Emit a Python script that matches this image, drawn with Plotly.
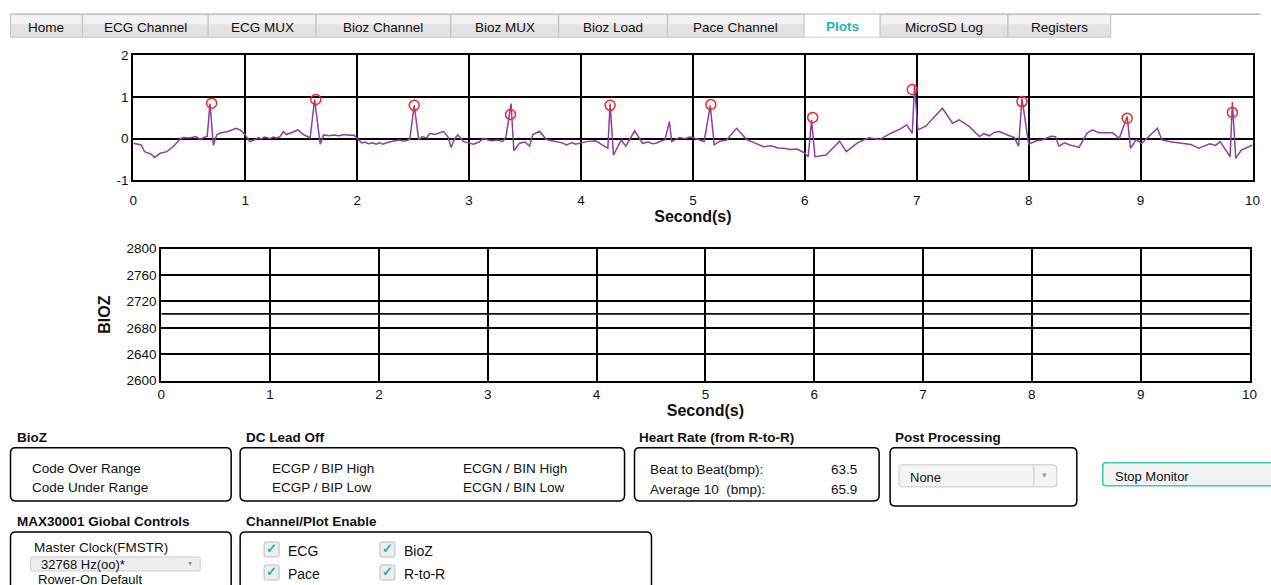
import plotly.graph_objects as go

# ---------------- data ----------------
ecg_time = [0.00, 0.07, 0.10, 0.13, 0.16, 0.19, 0.24, 0.30, 0.36, 0.42, 0.45, 0.50, 0.53, 0.56, 0.60, 0.63, 0.66,
            0.685, 0.715, 0.745, 0.77, 0.85, 0.92, 0.96, 1.00, 1.04, 1.09, 1.12, 1.14, 1.17, 1.19, 1.22, 1.25, 1.28, 1.31, 1.34, 1.37,
            1.40, 1.47, 1.52, 1.58, 1.62, 1.67, 1.70, 1.75, 1.79, 1.84, 1.88, 1.93, 1.97, 2.04, 2.07, 2.10, 2.14, 2.17, 2.20, 2.23, 2.27, 2.30,
            2.34, 2.38, 2.42, 2.47, 2.51, 2.55, 2.58, 2.62, 2.65, 2.69, 2.72, 2.77, 2.81, 2.84, 2.87, 2.90, 2.95, 3.04, 3.09, 3.13,
            3.17, 3.20, 3.26, 3.30, 3.33, 3.375, 3.40, 3.45, 3.50, 3.54, 3.57, 3.63, 3.69, 3.74, 3.78, 3.83, 3.87, 3.92, 3.95, 3.99, 4.05, 4.13, 4.24,
            4.26, 4.29, 4.36, 4.40, 4.48, 4.55, 4.60, 4.64, 4.67, 4.71, 4.75, 4.79, 4.81, 4.88, 4.93, 4.97, 5.00, 5.10, 5.155, 5.19, 5.24, 5.30,
            5.39, 5.48, 5.55, 5.63, 5.70, 5.76, 5.81, 5.87, 5.93, 5.99, 6.03, 6.06, 6.09, 6.19, 6.31, 6.37, 6.47, 6.57, 6.67, 6.76, 6.85,
            6.91, 6.96, 6.98, 7.01, 7.08, 7.15, 7.23, 7.32, 7.38, 7.47, 7.56, 7.60, 7.65, 7.69, 7.74, 7.80, 7.87, 7.91, 7.94,
            8.00, 8.07, 8.12, 8.16, 8.20, 8.24, 8.27, 8.32, 8.37, 8.45, 8.52, 8.57, 8.63, 8.75, 8.81, 8.88, 8.91, 8.96, 9.01, 9.15,
            9.19, 9.28, 9.37, 9.45, 9.52, 9.58, 9.62, 9.67, 9.71, 9.80, 9.82, 9.85, 9.90, 10.00]
ecg_value = [-0.11, -0.15, -0.31, -0.35, -0.37, -0.45, -0.35, -0.31, -0.18, 0.00, 0.03, 0.02, 0.04, 0.05, -0.02, 0.03, 0.05,
             0.84, -0.16, 0.09, 0.13, 0.18, 0.25, 0.20, 0.09, -0.07, -0.02, 0.03, -0.01, 0.04, 0.03, 0.00, 0.04, 0.02, 0.05, 0.17, 0.10,
             0.13, 0.21, 0.10, 0.02, 0.94, -0.13, 0.09, 0.07, 0.09, 0.07, 0.10, 0.08, 0.09, -0.10, -0.08, -0.12, -0.10, -0.13, -0.10, -0.13, -0.09, -0.08,
             -0.05, -0.03, -0.06, -0.02, 0.80, -0.03, 0.05, 0.02, 0.13, 0.10, 0.12, 0.17, 0.05, -0.21, 0.00, 0.09, -0.07, -0.13, -0.08, 0.01,
             -0.03, -0.05, -0.03, -0.07, 0.05, 0.84, -0.29, -0.11, -0.08, -0.18, 0.10, 0.18, -0.02, -0.05, -0.07, -0.10, -0.15, -0.09, -0.13, -0.11, -0.07, -0.05, -0.23,
             0.84, -0.39, -0.03, -0.18, 0.19, -0.11, -0.08, -0.12, -0.11, -0.06, -0.03, 0.41, -0.07, 0.03, 0.00, 0.04, 0.03, -0.07, 0.80, -0.15, -0.06, -0.03,
             0.25, -0.02, -0.10, -0.19, -0.17, -0.22, -0.23, -0.26, -0.25, -0.33, -0.43, 0.45, -0.43, -0.39, -0.06, -0.31, -0.10, 0.02, -0.02, 0.12, 0.23,
             0.33, 0.13, 1.28, 0.21, 0.30, 0.50, 0.73, 0.37, 0.45, 0.29, 0.05, 0.12, 0.07, 0.15, 0.17, 0.10, 0.03, -0.18, 0.96,
             -0.13, -0.05, -0.03, 0.02, 0.06, 0.05, -0.18, -0.10, -0.15, -0.21, 0.13, 0.21, 0.14, 0.14, 0.01, 0.53, -0.23, -0.02, -0.11, 0.25,
             -0.03, -0.08, -0.11, -0.14, -0.23, -0.16, -0.12, -0.16, -0.07, -0.43, 0.88, -0.47, -0.27, -0.15]

rpeak_time = [0.70, 1.63, 2.51, 3.37, 4.26, 5.16, 6.07, 6.96, 7.94, 8.88, 9.82]
rpeak_value = [0.85, 0.94, 0.80, 0.58, 0.80, 0.82, 0.51, 1.18, 0.89, 0.49, 0.63]

bioz_time = [0, 10.05]
bioz_value = [2701, 2701]

ecg_yticks = [-1, 0, 1, 2]
ecg_yticklabels = ["-1", "0", "1", "2"]
bioz_yticks = [2600, 2640, 2680, 2720, 2760, 2800]
sec_ticks = list(range(0, 11))

tab_labels = ["Home", "ECG Channel", "ECG MUX", "Bioz Channel", "Bioz MUX", "Bioz Load",
              "Pace Channel", "Plots", "MicroSD Log", "Registers"]
tab_edges = [10, 82, 208, 316, 451, 559, 668, 805, 881, 1009, 1112]
active_tab = "Plots"

heart_rate_labels = ["Beat to Beat(bmp):", "Average 10  (bmp):"]
heart_rate_values = ["63.5", "65.9"]

# ---------------- layout helpers ----------------
# design coordinates are screen pixels of a 1271x585 picture; the page is captured in a
# slightly larger frame, so map design pixels to page pixels first.
SX, SY = 1271 / 1281, 585 / 601
OX, OY = 3.5, 7.0
W, H = 1277, 594
FONT = "Liberation Sans, Arial, sans-serif"


def gx(x):
    return x / SX - OX


def gy(y):
    return y / SY - OY


def px(x):
    return gx(x) / W


def py(y):
    return 1 - gy(y) / H


shapes = []
annotations = []


def rect(x0, y0, x1, y1, fill="rgba(0,0,0,0)", line="black", lw=1):
    shapes.append(dict(type="rect", xref="paper", yref="paper", x0=px(x0), x1=px(x1),
                       y0=py(y1), y1=py(y0), fillcolor=fill, line=dict(color=line, width=lw), layer="above"))


def rrect(x0, y0, x1, y1, r=5, line="black", lw=1.5, fill="rgba(0,0,0,0)"):
    def P(x, y):
        return f"{px(x):.5f},{py(y):.5f}"
    path = (f"M {P(x0 + r, y0)} L {P(x1 - r, y0)} Q {P(x1, y0)} {P(x1, y0 + r)} "
            f"L {P(x1, y1 - r)} Q {P(x1, y1)} {P(x1 - r, y1)} L {P(x0 + r, y1)} "
            f"Q {P(x0, y1)} {P(x0, y1 - r)} L {P(x0, y0 + r)} Q {P(x0, y0)} {P(x0 + r, y0)} Z")
    shapes.append(dict(type="path", xref="paper", yref="paper", path=path,
                       line=dict(color=line, width=lw), fillcolor=fill, layer="above"))


def text(x, y, s, size=13.5, bold=False, color="#111", anchor="left"):
    annotations.append(dict(xref="paper", yref="paper", x=px(x), y=py(y), text=(f"<b>{s}</b>" if bold else s),
                            showarrow=False, xanchor=anchor, yanchor="middle",
                            font=dict(family=FONT, size=size, color=color)))


# ---------------- figure ----------------
fig = go.Figure()
fig.add_trace(go.Scatter(x=ecg_time, y=ecg_value, mode="lines", line=dict(color="#8e3fa3", width=1.5),
                         xaxis="x", yaxis="y", showlegend=False))
fig.add_trace(go.Scatter(x=rpeak_time, y=rpeak_value, mode="markers",
                         marker=dict(symbol="circle-open", size=10, color="#ff2020", line=dict(width=1.5)),
                         xaxis="x", yaxis="y", showlegend=False))
fig.add_trace(go.Scatter(x=bioz_time, y=bioz_value, mode="lines", line=dict(color="#111", width=1.8),
                         xaxis="x2", yaxis="y2", showlegend=False, cliponaxis=False))

axis_common = dict(showgrid=True, gridcolor="black", showline=True, linecolor="black", mirror=True,
                   ticks="", tickfont=dict(family=FONT, size=13.5, color="#111"), zeroline=False)
title_font = dict(family=FONT, size=16, color="#111")

fig.update_layout(
    width=W, height=H, margin=dict(l=0, r=0, t=0, b=0),
    paper_bgcolor="white", plot_bgcolor="white",
    xaxis=dict(domain=[px(133), px(1254)], range=[0, 10], tickvals=sec_ticks, anchor="y",
               gridwidth=2, linewidth=2, ticklabelstandoff=6,
               title=dict(text="<b>Second(s)</b>", font=title_font, standoff=1),
               **axis_common),
    yaxis=dict(domain=[py(180), py(55)], range=[-1, 2], tickvals=ecg_yticks, ticktext=ecg_yticklabels,
               anchor="x", gridwidth=2, linewidth=2, **axis_common),
    xaxis2=dict(domain=[px(161), px(1251)], range=[0, 10], tickvals=sec_ticks, anchor="y2",
                gridwidth=1.5, linewidth=2,
                title=dict(text="<b>Second(s)</b>", font=title_font, standoff=1),
                **axis_common),
    yaxis2=dict(domain=[py(380), py(248)], range=[2600, 2800], tickvals=bioz_yticks, anchor="x2",
                gridwidth=1.5, linewidth=2,
                title=dict(text="<b>BIOZ</b>", font=title_font, standoff=12),
                **axis_common),
)

# ---------------- tabs ----------------
shapes.append(dict(type="line", xref="paper", yref="paper", x0=px(10), x1=px(1262), y0=py(14), y1=py(14),
                   line=dict(color="#b8b8b8", width=1.5)))
for i, lab in enumerate(tab_labels):
    x0, x1 = tab_edges[i], tab_edges[i + 1]
    if lab == active_tab:
        rect(x0, 14, x1, 37, fill="white", line="#d0d0d0", lw=1)
        text((x0 + x1) / 2, 26, lab, size=13.5, bold=True, color="#1fb5b0", anchor="center")
    else:
        rect(x0, 14, x1, 37, fill="#e2e2e2", line="#c4c4c4", lw=1)
        rect(x0 + 1, 15, x1 - 1, 24, fill="#f3f3f3", line="rgba(0,0,0,0)", lw=0)
        text((x0 + x1) / 2, 27, lab, size=13.5, color="#111", anchor="center")

# ---------------- lower panels ----------------
text(14, 437, "BioZ", bold=True, size=13.5)
rrect(10, 447, 231, 500)
text(30, 468, "Code Over Range")
text(30, 487, "Code Under Range")

text(244, 437, "DC Lead Off", bold=True, size=13.5)
rrect(240, 447, 625, 500)
text(270, 468, "ECGP / BIP High")
text(270, 487, "ECGP / BIP Low")
text(461, 468, "ECGN / BIN High")
text(461, 487, "ECGN / BIN Low")

text(637, 437, "Heart Rate (from R-to-R)", bold=True, size=13.5)
rrect(635, 447, 880, 500)
text(649, 469, heart_rate_labels[0])
text(649, 489, heart_rate_labels[1])
text(860, 469, heart_rate_values[0], anchor="right")
text(860, 489, heart_rate_values[1], anchor="right")

text(894, 437, "Post Processing", bold=True, size=13.5)
rrect(891, 447, 1078, 505)
rrect(900, 464, 1058, 486, r=3, line="#c8c8c8", lw=1, fill="#f4f4f4")
shapes.append(dict(type="line", xref="paper", yref="paper", x0=px(1035), x1=px(1035), y0=py(465), y1=py(485),
                   line=dict(color="#c8c8c8", width=1)))
text(1046, 474, "▾", size=9, color="#999", anchor="center")
text(909, 477, "None", size=13)

rrect(1104, 462, 1285, 485, r=3, line="#3cc8c0", lw=1.5, fill="#f2f2f2")
text(1114, 476, "Stop Monitor", size=13)

text(14, 521, "MAX30001 Giobal Controls", bold=True, size=13.5)
rrect(10, 531, 231, 600)
text(32, 547, "Master Clock(FMSTR)")
rrect(30, 556, 200, 570, r=2, line="#cccccc", lw=1, fill="#eeeeee")
text(190, 563, "▾", size=8, color="#999", anchor="center")
text(39, 564, "32768 Hz(oo)*", size=13)
text(36, 579, "Rower-On Default", size=13)

text(244, 521, "Channel/Plot Enable", bold=True, size=13.5)
rrect(240, 531, 652, 600)
checks = [("ECG", 264, 549), ("BioZ", 380, 549), ("Pace", 264, 572), ("R-to-R", 380, 572)]
for lab, cx, cy in checks:
    rrect(cx, cy - 8, cx + 15, cy + 7, r=2, line="#bbbbbb", lw=1, fill="#eeeeee")
    text(cx + 7.5, cy - 1, "✓", size=13, color="#22b5b0", anchor="center", bold=True)
    text(cx + 22, cy + 1, lab, size=14)

fig.update_layout(shapes=shapes, annotations=annotations)
fig.write_html("out.html", config={"displayModeBar": False},
               post_script="document.body.style.margin='0px';document.body.style.overflow='hidden';")
